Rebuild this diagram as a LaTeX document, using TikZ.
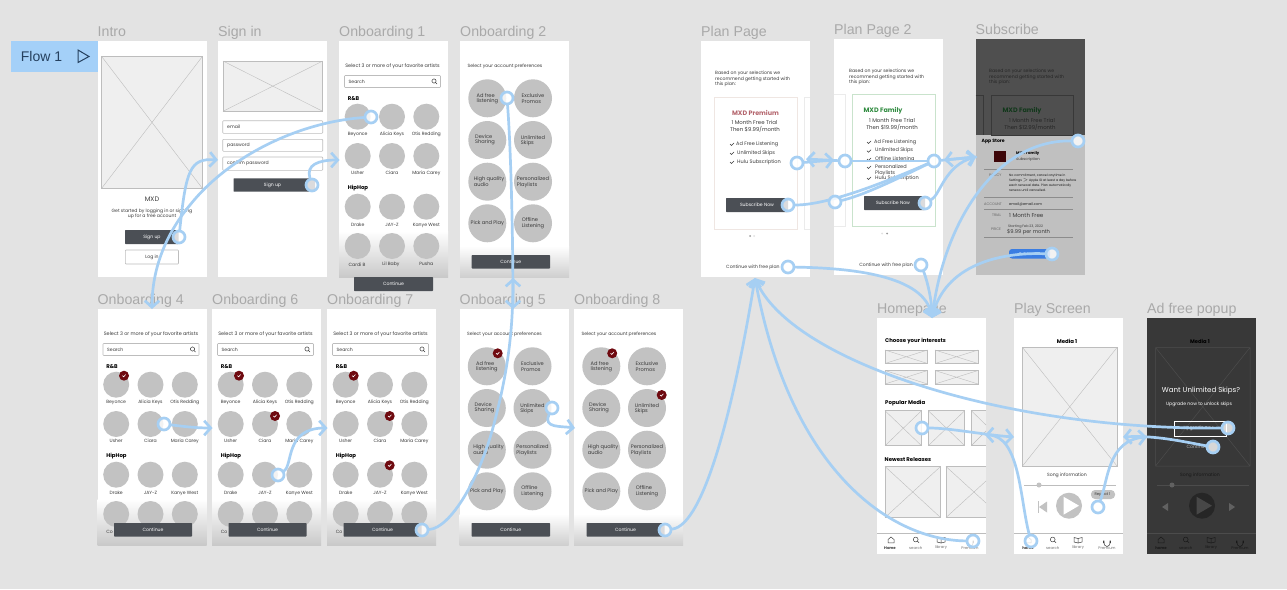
\documentclass[tikz,border=0pt]{standalone}
\usepackage{fontspec}
\setmainfont{Poppins}
\newfontfamily\titlef{Liberation Sans}
\usetikzlibrary{arrows.meta}
\definecolor{bgc}{HTML}{E3E3E3}
\definecolor{flowc}{HTML}{A6CFF3}
\definecolor{tagc}{HTML}{A4D0F8}
\definecolor{tagt}{HTML}{25405E}
\definecolor{btnc}{HTML}{4B4F55}
\definecolor{circc}{HTML}{C2C2C2}
\definecolor{titlec}{HTML}{A9A9A9}
\definecolor{txtc}{HTML}{3A3A3A}
\definecolor{redc}{HTML}{6F0A10}
\definecolor{linec}{HTML}{BDBDBD}
\definecolor{xfill}{HTML}{EFEFEF}
\definecolor{fadeA}{HTML}{C9C9C9}
\definecolor{fadeB}{HTML}{CFCFCF}
\definecolor{premline}{HTML}{EFE6E2}
\definecolor{famline}{HTML}{C9E3CC}
\definecolor{premt}{HTML}{B4656D}
\definecolor{famt}{HTML}{2F8B3F}
\definecolor{sheetc}{HTML}{C0C0C0}
\definecolor{famdark}{HTML}{12381B}
\definecolor{sqc}{HTML}{3D0608}
\definecolor{bluebtn}{HTML}{3A7DE2}
\pgfdeclarelayer{top}
\pgfsetlayers{main,top}
\tikzset{
  txt/.style={inner sep=0pt,text=txtc,font=\fontsize{4.6}{5.6}\selectfont},
  big/.style={font=\fontsize{5.4}{7.4}\selectfont},
  lead/.style={font=\fontsize{4.9}{5.6}\selectfont},
  prf/.style={font=\fontsize{5.1}{5.5}\selectfont},
  lst/.style={font=\fontsize{5}{5.8}\selectfont},
  bold/.style={font=\fontsize{5.4}{6.4}\selectfont\bfseries,text=black},
  wt/.style={text=white},
  west/.style={anchor=west,align=left},
  ttl/.style={inner sep=0pt,anchor=base west,text=titlec,font=\titlef\fontsize{14.2}{16}\selectfont},
  scr/.style={fill=white,draw=none},
  btn/.style={fill=btnc,draw=none,rounded corners=0.6pt},
  circ/.style={fill=circc,draw=none},
  field/.style={draw=linec,line width=0.6pt,fill=white,rounded corners=0.8pt},
  xln/.style={draw=linec,line width=0.4pt},
  flow/.style={draw=flowc,line width=2.7pt,line cap=round,-{Straight Barb[length=6.5pt,width=14.5pt,line width=2.7pt]}},
  flowp/.style={draw=flowc,line width=2.7pt,line cap=round},
  hot/.style={circle,draw=flowc,line width=2.7pt,fill=white,fill opacity=0.8,minimum size=12pt,inner sep=0pt}
}
\newcount\tcnt
\newcommand{\tx}[3][]{\global\advance\tcnt by 1 \node[txt,#1] (t\the\tcnt) at (#2) {#3};}
\newcommand{\xb}[4]{\fill[xfill] (#1,#2) rectangle (#3,#4);\draw[xln] (#1,#2) -- (#3,#4) (#1,#4) -- (#3,#2);\draw[draw=linec,line width=0.6pt] (#1,#2) rectangle (#3,#4);}
\newcommand{\scrn}[4]{\fill[scr] (#1,#2) rectangle ++(109,236);\global\advance\tcnt by 1 \node[ttl] (t\the\tcnt) at (#1,#2-5) {#3};}
\newcommand{\fadeb}[3]{\shade[top color=white,bottom color=#3] (#1,#2) rectangle ++(109,{236-(#2-0)});}
\newcommand{\chk}[2]{\fill[redc] (#1,#2) circle[radius=5pt];\draw[white,line width=0.6pt] (#1-1.6,#2) -- (#1-0.4,#2+1.1) -- (#1+1.7,#2-1.2);}
\newcommand{\artist}[4]{\fill[circ] (#1,#2) circle[radius=13pt];\tx{#1,#3}{#4}}
\newcommand{\searchicon}[2]{\draw[txtc,line width=0.5pt] (#1,#2) circle[radius=2.1pt] (#1+1.5,#2+1.5) -- (#1+3,#2+3);}
\newcommand{\artists}{%
 \artist{18.7}{75.7}{93.7}{Beyonce}\artist{53}{75.7}{93.7}{Alicia Keys}\artist{87.3}{75.7}{93.7}{Otis Redding}%
 \artist{18.7}{115}{132}{Usher}\artist{53}{115}{132}{Ciara}\artist{87.3}{115}{132}{Maria Carey}%
 \artist{18.7}{165.7}{184}{Drake}\artist{53}{165.7}{184}{JAY-Z}\artist{87.3}{165.7}{184}{Kanye West}%
 \fill[circ] (18.7,205) circle[radius=13pt] (53,205) circle[radius=13pt] (87.3,205) circle[radius=13pt];%
 \tx[lead]{53.5,25.5}{Select 3 or more of your favorite artists}%
 \draw[field] (5.5,34.5) rectangle (101.5,46.5);%
 \tx[west]{9.5,40.5}{Search}\searchicon{95}{40}%
 \tx[bold,west]{8.7,57.3}{R\&B}\tx[bold,west]{8.7,147}{HipHop}}
\newcommand{\prefs}{%
 \tx{45,25.5}{Select your account preferences}%
 \fill[circ] (27.3,57.3) circle[radius=19pt] (73,57.3) circle[radius=19pt] (27.3,99) circle[radius=19pt] (73,99) circle[radius=19pt] (27.3,140.7) circle[radius=19pt] (73,140.7) circle[radius=19pt] (27.3,182.3) circle[radius=19pt] (73,182.3) circle[radius=19pt];%
 \tx[prf,align=left]{27.3,57.5}{Ad free\\listening}\tx[prf,align=left]{73,57.5}{Exclusive\\Promos}%
 \tx[prf,align=left]{25,98.5}{Device\\Sharing}\tx[prf,align=left]{73,99.5}{Unlimited\\Skips}%
 \tx[prf,align=left]{29,140.5}{High quality\\audio}\tx[prf,align=left]{73,141}{Personalized\\Playlists}%
 \tx[prf]{27.3,182.3}{Pick and Play}\tx[prf,align=left]{73,182.3}{Offline\\Listening}}
\newcommand{\contbtn}[2]{\fill[btn] (#1,214) rectangle (#2,227.5);\tx[wt]{{(#1+#2)/2},220.7}{Continue}}
\newcommand{\navbar}[2]{%
 \draw[#1,line width=0.5pt] (0,215.5) -- (109,215.5);%
 \draw[#2,line width=0.5pt] (11,224.8) -- (11,221.5) -- (14,219) -- (17,221.5) -- (17,224.8) -- cycle;%
 \draw[#2,line width=0.5pt] (38.7,221.5) circle[radius=2.4pt] (40.4,223.2) -- (42,224.8);%
 \draw[#2,line width=0.5pt] (64,220.5) -- (64,225) -- (60,224) -- (60,219.5) -- (64,220.5) -- (68,219.5) -- (68,224) -- (64,225);%
 \draw[#2,line width=0.5pt] (89.7,224) arc[start angle=180,end angle=360,x radius=3.3pt,y radius=4.5pt];%
 \fill[#2] (89.2,222.5) rectangle (90.4,225.2) (95.6,222.5) rectangle (96.8,225.2);}
\begin{document}
\begin{tikzpicture}[x=1pt,y=-1pt]
\useasboundingbox (0,0) rectangle (1287,589);
\fill[bgc] (0,0) rectangle (1287,589);
% Flow tag
\fill[tagc] (11,41.3) rectangle (97.5,71.7);
\node[inner sep=0pt,text=tagt,font=\titlef\fontsize{14}{16}\selectfont] (flowtag) at (41.5,56.5) {Flow 1};
\draw[tagt,line width=1pt,line join=miter] (78,50) -- (89,56.5) -- (78,62.5) -- cycle;
% Intro
\scrn{97.5}{41}{Intro}{}
\xb{101.5}{56.3}{202.5}{188.5}
\tx[font=\fontsize{6.5}{8}\selectfont]{152,199.7}{MXD}
\tx[align=center]{152,214}{Get started by logging in or signing\\up for a free account}
\fill[btn] (125,230) rectangle (178.5,244);
\tx[wt]{152,237}{Sign up}
\draw[field] (125.3,250) rectangle (178.5,264);
\tx{152,257}{Log in}
% Sign in
\scrn{218}{41}{Sign in}{}
\xb{223}{61}{322.7}{111.3}
\draw[field] (222.7,120.7) rectangle (322.7,133.3);
\draw[field] (222.7,139.3) rectangle (322.7,151.3);
\draw[field] (222.7,157) rectangle (322.7,170.3);
\tx[west]{227,127}{email}
\tx[west]{227,145.3}{password}
\tx[west]{227,163.7}{confirm password}
\fill[btn] (233.5,178.3) rectangle (315,191.7);
\tx[wt]{272.5,185}{Sign up}
% Onboarding 1
\scrn{339}{41}{Onboarding 1}{}
\begin{scope}[shift={(339,41)}]
\fadeb{0}{190}{fadeA}
\artists
\tx{18,223.3}{Cardi B}\tx{52,223.3}{Lil Baby}\tx{87.3,223.3}{Pusha}
\fill[btn] (15,236) rectangle (94,250);
\tx[wt]{54.5,243}{Continue}
\end{scope}
% Onboarding 2
\scrn{460}{41}{Onboarding 2}{}
\begin{scope}[shift={(460,41)}]
\fadeb{0}{205}{fadeB}
\prefs
\contbtn{11.7}{90}
\end{scope}
% Onboarding 4
\scrn{97.5}{309}{Onboarding 4}{}
\begin{scope}[shift={(97.5,309)}]
\fadeb{0}{190}{fadeA}
\artists
\tx[west]{8.7,223.3}{Co}
\contbtn{16.5}{94.5}
\chk{26.5}{66.7}
\end{scope}
% Onboarding 6
\scrn{212}{309}{Onboarding 6}{}
\begin{scope}[shift={(212,309)}]
\fadeb{0}{190}{fadeA}
\artists
\tx[west]{8.7,223.3}{Co}
\contbtn{16.5}{94.5}
\chk{27}{66.7}\chk{63}{107}
\end{scope}
% Onboarding 7
\scrn{327}{309}{Onboarding 7}{}
\begin{scope}[shift={(327,309)}]
\fadeb{0}{190}{fadeA}
\artists
\tx[west]{8.7,223.3}{Co}
\contbtn{16.5}{94.5}
\chk{26.7}{66.7}\chk{62.7}{107}\chk{62.7}{156.3}
\end{scope}
% Onboarding 5
\scrn{459.5}{309}{Onboarding 5}{}
\begin{scope}[shift={(459.5,309)}]
\fadeb{0}{205}{fadeB}
\prefs
\contbtn{12}{90.5}
\chk{38.2}{44.3}
\end{scope}
% Onboarding 8
\scrn{574}{309}{Onboarding 8}{}
\begin{scope}[shift={(574,309)}]
\fadeb{0}{205}{fadeB}
\prefs
\contbtn{12.5}{90.5}
\chk{38.2}{44.3}\chk{87.7}{86}
\end{scope}
% Plan Page
\scrn{701}{41}{Plan Page}{}
\draw[draw=premline,line width=0.7pt,fill=white] (714.3,97.3) rectangle (797.3,229);
\draw[draw=black!8,line width=0.6pt] (810,97.3) -- (804,97.3) -- (804,229) -- (810,229);
\tx[align=left,west]{715,79}{Based on your selections we\\recommend getting started with\\this plan:}
\tx[font=\fontsize{6.4}{8}\selectfont\bfseries,text=premt]{755.5,113}{MXD Premium}
\tx[big]{754.5,122}{1 Month Free Trial}
\tx[big]{755,129.5}{Then \$9.99/month}
\tx[west,lst]{736,144}{Ad Free Listening}
\tx[west,lst]{737,153}{Unlimited Skips}
\tx[west,lst]{737,162}{Hulu Subscription}
\draw[txtc,line width=0.5pt] (730,144) -- (731.5,145.5) -- (734,143) (730,153) -- (731.5,154.5) -- (734,152) (730,162) -- (731.5,163.5) -- (734,161);
\fill[btn] (726,198) rectangle (788,212);
\tx[wt]{757,205}{Subscribe Now}
\fill[black!40] (750,236) circle[radius=1pt];\fill[black!12] (754,236) circle[radius=1pt];
\tx[west]{726,267}{Continue with free plan}
% Plan Page 2
\scrn{834}{39}{Plan Page 2}{}
\draw[draw=black!8,line width=0.6pt] (834,94.7) -- (845,94.7) -- (845,226.3) -- (834,226.3);
\draw[draw=famline,line width=0.7pt,fill=white] (852.5,94.7) rectangle (935,226.3);
\tx[align=left,west]{849,77}{Based on your selections we\\recommend getting started with\\this plan:}
\tx[font=\fontsize{6.4}{8}\selectfont\bfseries,text=famt]{883,111}{MXD Family}
\tx[big]{892,120}{1 Month Free Trial}
\tx[big]{892,127}{Then \$19.99/month}
\tx[west,lst]{874,142}{Ad Free Listening}
\tx[west,lst]{875,150.7}{Unlimited Skips}
\tx[west,lst]{875,159}{Offline Listening}
\tx[west,align=left,lst]{875,170}{Personalized\\Playlists}
\tx[west,lst]{875,178}{Hulu Subscription}
\draw[txtc,line width=0.5pt] (867,142) -- (868.5,143.5) -- (871,141) (867,150.7) -- (868.5,152.2) -- (871,149.7) (867,159) -- (868.5,160.5) -- (871,158) (867,167) -- (868.5,168.5) -- (871,166) (867,178) -- (868.5,179.5) -- (871,177);
\fill[btn] (864,196) rectangle (925,210);
\tx[wt]{893,203}{Subscribe Now}
\fill[black!12] (882,233.5) circle[radius=1pt];\fill[black!40] (887,233.5) circle[radius=1pt];
\tx{886,265}{Continue with free plan}
% Subscribe
\global\advance\tcnt by 1 \node[ttl] (t\the\tcnt) at (975.5,34) {Subscribe};
\fill[black!69] (975.5,39) rectangle ++(109,96);
\fill[sheetc] (975.5,135) rectangle ++(109,140);
\draw[black!78,line width=0.4pt] (991,94.7) rectangle (1073,135);
\draw[black!78,line width=0.4pt] (975.5,94.7) -- (983,94.7) -- (983,135);
\tx[align=left,west,text=black!85]{989,77}{Based on your selections we\\recommend getting started with\\this plan:}
\tx[font=\fontsize{6.4}{8}\selectfont\bfseries,text=famdark]{1022,111}{MXD Family}
\tx[big,text=black!85]{1032,120}{1 Month Free Trial}
\tx[big,text=black!85]{1030,127}{Then \$12.99/month}
\tx[font=\fontsize{4.6}{5.6}\selectfont\bfseries,text=black,west]{981.5,141}{App Store}
\fill[sqc] (994,151) rectangle (1006,162);
\tx[font=\fontsize{3.8}{4.6}\selectfont\bfseries,text=black,west]{1016,153}{MXD Family}
\tx[font=\fontsize{3.8}{4.6}\selectfont,west]{1016,160}{Subscription}
\draw[black!45,line width=0.5pt] (984,169.5) -- (1073,169.5) (984,197.5) -- (1073,197.5) (984,209.5) -- (1073,209.5) (984,237.5) -- (1073,237.5);
\tx[font=\fontsize{3.6}{4.2}\selectfont,text=black!60,west]{989,175}{POLICY}
\tx[font=\fontsize{3.2}{5.1}\selectfont,west,align=left,text=black!90]{1009,183}{No commitment, cancel anytime in\\Settings $>$ Apple ID at least a day before\\each renewal date. Plan automatically\\renews until cancelled.}
\tx[font=\fontsize{3.6}{4.2}\selectfont,text=black!60,west]{984,204}{ACCOUNT}
\tx[font=\fontsize{3.6}{4.2}\selectfont,text=black!85,west]{1009,204}{email@email.com}
\tx[font=\fontsize{3.6}{4.2}\selectfont,text=black!60,west]{992,215}{TRIAL}
\tx[west,font=\fontsize{5.6}{6.4}\selectfont]{1009,215}{1 Month Free}
\tx[font=\fontsize{3.6}{4.2}\selectfont,text=black!60,west]{991,229}{PRICE}
\tx[font=\fontsize{3.4}{4.2}\selectfont,west]{1008,226.5}{Starting Feb 23, 2022}
\tx[font=\fontsize{5.2}{6}\selectfont,west]{1007,232.5}{\$9.99 per month}
\fill[bluebtn,rounded corners=3pt] (1009,249) rectangle (1050,258.5);
\tx[font=\fontsize{4}{5}\selectfont,wt]{1029,254}{Subscribe}
% Homepage
\scrn{877}{318}{Homepage}{}
\tx[bold,west]{885,341}{Choose your interests}
\xb{885}{350}{927.5}{363.5}\xb{935}{350}{978}{363.5}
\xb{885}{370.5}{927.5}{384}\xb{935}{370.5}{978}{384}
\tx[bold,west]{885,403}{Popular Media}
\xb{885}{410.7}{921.5}{445.7}\xb{928.3}{410.7}{964.7}{445.7}
\fill[xfill] (971.3,410.7) rectangle (986,445.7);\draw[xln] (971.3,410.7) -- (986,425) (971.3,445.7) -- (986,431);\draw[draw=linec,line width=0.6pt] (986,410.7) -- (971.3,410.7) -- (971.3,445.7) -- (986,445.7);
\tx[bold,west]{884.5,460}{Newest Releases}
\xb{885}{466.5}{940.5}{517.5}
\fill[xfill] (946,466.5) rectangle (986,517.5);\draw[xln] (946,466.5) -- (986,503) (946,517.5) -- (986,481);\draw[draw=linec,line width=0.6pt] (986,466.5) -- (946,466.5) -- (946,517.5) -- (986,517.5);
\begin{scope}[shift={(877,318)}]
\navbar{linec}{black!75}
\tx[font=\fontsize{3.8}{4.6}\selectfont\bfseries]{13,230}{Home}
\tx[font=\fontsize{3.8}{4.6}\selectfont,text=black!55]{38.7,230}{search}
\tx[font=\fontsize{3.8}{4.6}\selectfont,text=black!55]{64,230}{library}
\tx[font=\fontsize{3.8}{4.6}\selectfont,text=black!55]{93,230}{Premium}
\end{scope}
% Play Screen
\scrn{1014}{318}{Play Screen}{}
\begin{scope}[shift={(1014,318)}]
\tx[bold]{53,23}{Media 1}
\xb{8.5}{29.5}{103}{148}
\tx{53,157}{Song information}
\draw[linec,line width=0.7pt] (10,167.5) -- (102,167.5);
\fill[circc] (25,167) circle[radius=2.5pt];
\fill[circc] (25,189) -- (33,183.5) -- (33,194.5) -- cycle;
\draw[circc,line width=0.8pt] (24.5,183) -- (24.5,195);
\fill[circc] (55,187.7) circle[radius=13pt];
\fill[white] (49.5,178.7) -- (65,187.7) -- (49.5,196.7) -- cycle;
\fill[circc,rounded corners=4pt] (77,172) rectangle (101,181);
\tx[font=\fontsize{3.8}{4.6}\selectfont]{88.5,176.5}{Repeat 1}
\navbar{linec}{black!75}
\tx[font=\fontsize{3.8}{4.6}\selectfont\bfseries]{14,230}{home}
\tx[font=\fontsize{3.8}{4.6}\selectfont,text=black!55]{38.7,230}{search}
\tx[font=\fontsize{3.8}{4.6}\selectfont,text=black!55]{64,230}{library}
\tx[font=\fontsize{3.8}{4.6}\selectfont,text=black!55]{93,230}{Premium}
\end{scope}
% Ad free popup
\scrn{1147}{318}{Ad free popup}{}
\begin{scope}[shift={(1147,318)}]
\fill[black!78] (0,0) rectangle (109,236);
\tx[font=\fontsize{5.2}{6}\selectfont\bfseries,text=black]{53,23}{Media 1}
\draw[black!70,line width=0.5pt] (8.5,29.5) rectangle (103,148) (8.5,29.5) -- (103,148) (8.5,148) -- (103,29.5);
\tx[text=black!90]{53,157}{Song information}
\draw[black!70,line width=0.7pt] (10,167.5) -- (102,167.5);
\fill[black!62] (25,167) circle[radius=2.5pt];
\fill[black!62] (15,189) -- (21,185) -- (21,193) -- cycle;
\fill[black!62] (88,189) -- (82,185) -- (82,193) -- cycle;
\fill[black!85] (55,187.7) circle[radius=13pt];
\fill[black!72] (49.5,178.7) -- (65,187.7) -- (49.5,196.7) -- cycle;
\navbar{black!70}{black!90}
\tx[font=\fontsize{3.8}{4.6}\selectfont\bfseries,text=black!90]{14,230}{home}
\tx[font=\fontsize{3.8}{4.6}\selectfont,text=black!90]{38.7,230}{search}
\tx[font=\fontsize{3.8}{4.6}\selectfont,text=black!90]{64,230}{library}
\tx[font=\fontsize{3.8}{4.6}\selectfont,text=black!90]{93,230}{Premium}
\tx[font=\fontsize{7.1}{9}\selectfont,wt]{54,73}{Want Unlimited Skips?}
\tx[wt]{52,86}{Upgrade now to unlock skips}
\draw[white,line width=0.7pt] (27,103.3) rectangle (79,118);
\tx[wt]{52,110.7}{Upgrade now}
\tx[text=white!70!black]{50,129}{Continue}
\end{scope}
% ---- hotspots
\begin{pgfonlayer}{top}
\node[hot] (hIntro) at (179,237) {};
\node[hot] (hSign) at (312,185) {};
\node[hot] (hBey) at (371,117) {};
\node[hot] (hAd) at (507,98) {};
\node[hot] (hClara) at (164,424) {};
\node[hot] (hJay) at (278,475) {};
\node[hot] (hCont7) at (422,530) {};
\node[hot] (hUnl) at (552,408) {};
\node[hot] (hCont8) at (665,530) {};
\node[hot] (hPlanSw) at (797,163) {};
\node[hot] (hPlanSub) at (788,205) {};
\node[hot] (hPlanFree) at (788,267) {};
\node[hot] (hP2a) at (845,161) {};
\node[hot] (hP2b) at (835,202) {};
\node[hot] (hP2c) at (934,161) {};
\node[hot] (hP2d) at (925,203) {};
\node[hot] (hP2e) at (921,265) {};
\node[hot] (hSubX) at (1078,141) {};
\node[hot] (hSubB) at (1052,254) {};
\node[hot] (hMedia) at (922,428) {};
\node[hot] (hPrem) at (973,541) {};
\node[hot] (hHome) at (1031,541) {};
\node[hot] (hRep) at (1098,507) {};
\node[hot] (hUp) at (1228,428) {};
\node[hot] (hSkip) at (1213,447) {};
\end{pgfonlayer}
% ---- free ends of connectors
\coordinate (eSign) at (218,160);
\coordinate (eOn1) at (339.5,160);
\coordinate (eOn4) at (152,309);
\coordinate (eOn6) at (212.5,428);
\coordinate (eOn7) at (327.5,428);
\coordinate (eOn5) at (513,309);
\coordinate (eOn2) at (513,278);
\coordinate (eOn8) at (575,428);
\coordinate (ePlan) at (755,278);
\coordinate (eP2) at (834,160);
\coordinate (ePB) at (806,159);
\coordinate (eSub) at (976,157);
\coordinate (eP2R) at (944,160);
\coordinate (eHome) at (932,318);
\coordinate (ePlayL) at (1014,437);
\coordinate (ePlayR) at (1123,437);
\coordinate (eHomeR) at (985,435);
\coordinate (eAd) at (1147,437);
% ---- connectors
\draw[flow] (hIntro) .. controls (186,170) and (190,158) .. (eSign);
\draw[flow] (hSign) .. controls (306,165) and (318,160) .. (eOn1);
\draw[flow] (hBey) .. controls (300,122) and (230,155) .. (190,205) .. controls (165,235) and (152,270) .. (eOn4);
\draw[flow] (hClara) .. controls (180,426) and (195,428) .. (eOn6);
\draw[flow] (hJay) .. controls (293,465) and (285,428) .. (eOn7);
\draw[flow] (hCont7) .. controls (450,528) and (480,480) .. (495,420) .. controls (508,370) and (513,330) .. (eOn2);
\draw[flow] (hAd) .. controls (511,150) and (513,240) .. (eOn5);
\draw[flow] (hUnl) .. controls (543,428) and (560,426) .. (eOn8);
\draw[flow] (hCont8) .. controls (705,525) and (735,400) .. (ePlan);
\draw[flow] (hPlanSw) -- (eP2);
\draw[flow] (hP2a) -- (ePB);
\draw[flowp] (hP2a) -- (hP2c);
\draw[flowp] (hPlanSub) .. controls (830,205) and (890,180) .. (hP2c);
\draw[flowp] (hP2b) .. controls (865,195) and (905,175) .. (hP2c);
\draw[flow] (hP2c) -- (eSub);
\draw[flow] (hP2d) .. controls (940,195) and (945,165) .. (eSub);
\draw[flow] (eSub) -- (eP2R);
\draw[flow] (hSubX) .. controls (1000,140) and (945,215) .. (eHome);
\draw[flow] (hSubB) .. controls (1000,252) and (945,265) .. (eHome);
\draw[flow] (hPlanFree) .. controls (850,268) and (925,275) .. (eHome);
\draw[flow] (hP2e) .. controls (927,280) and (932,300) .. (eHome);
\draw[flow] (hPrem) .. controls (890,540) and (790,470) .. (ePlan);
\draw[flow] (hUp) .. controls (1000,430) and (790,360) .. (ePlan);
\draw[flow] (hSkip) .. controls (1185,442) and (1155,435) .. (ePlayR);
\draw[flow] (hRep) .. controls (1108,480) and (1108,440) .. (eAd);
\draw[flow] (hMedia) .. controls (950,428) and (985,435) .. (ePlayL);
\draw[flow] (hHome) .. controls (1020,500) and (1020,435) .. (eHomeR);
\end{tikzpicture}
\end{document}
